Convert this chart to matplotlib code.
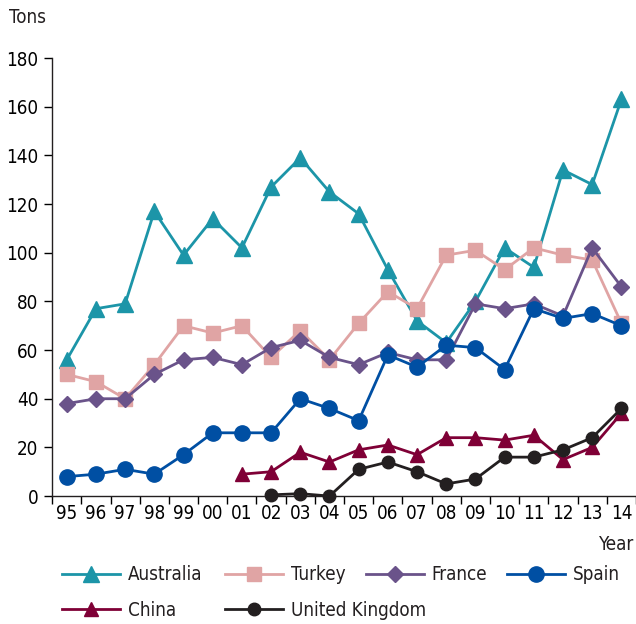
"""Annual production by country, line chart with markers."""

import matplotlib
matplotlib.use("Agg")
import matplotlib.pyplot as plt

years = ["95", "96", "97", "98", "99", "00", "01", "02", "03", "04",
         "05", "06", "07", "08", "09", "10", "11", "12", "13", "14"]

australia = [56, 77, 79, 117, 99, 114, 102, 127, 139, 125,
             116, 93, 72, 63, 80, 102, 94, 134, 128, 163]
turkey = [50, 47, 40, 54, 70, 67, 70, 57, 68, 56,
          71, 84, 77, 99, 101, 93, 102, 99, 97, 71]
france = [38, 40, 40, 50, 56, 57, 54, 61, 64, 57,
          54, 59, 56, 56, 79, 77, 79, 74, 102, 86]
spain = [8, 9, 11, 9, 17, 26, 26, 26, 40, 36,
         31, 58, 53, 62, 61, 52, 77, 73, 75, 70]
china = [None] * 6 + [9, 10, 18, 14, 19, 21, 17, 24, 24, 23, 25, 15, 20, 34]
uk = [None] * 7 + [0.5, 1, 0, 11, 14, 10, 5, 7, 16, 16, 19, 24, 36]

series = [
    ("Australia", australia, "#1c95a8", "^", 11),
    ("Turkey", turkey, "#e0a4a4", "s", 10),
    ("France", france, "#6a538a", "D", 8),
    ("Spain", spain, "#004fa3", "o", 11),
    ("China", china, "#7f0036", "^", 10),
    ("United Kingdom", uk, "#231f20", "o", 9),
]

plt.rcParams["font.family"] = ["DejaVu Sans"]
plt.rcParams["font.stretch"] = "condensed"
plt.rcParams["text.color"] = "#231f20"

fig = plt.figure(figsize=(6.36, 6.24), dpi=100)
ax = fig.add_axes([0.082, 0.205, 0.918, 0.702])

handles = {}
for name, vals, color, marker, ms in series:
    xs = [i for i, v in enumerate(vals) if v is not None]
    ys = [v for v in vals if v is not None]
    ln, = ax.plot(xs, ys, color=color, marker=marker, markersize=ms,
                  linewidth=2, clip_on=False, zorder=3)
    handles[name] = ln

ax.set_xlim(-0.5, len(years) - 0.5)
ax.set_ylim(0, 180)
ax.set_yticks(range(0, 181, 20))
ax.set_xticks(range(len(years)))
ax.set_xticklabels(years)
ax.set_xticks([i + 0.5 for i in range(-1, len(years))], minor=True)
ax.tick_params(axis="x", which="major", length=0, labelsize=13.5, pad=6)
ax.tick_params(axis="x", which="minor", length=6, width=1)
ax.tick_params(axis="y", length=6, width=1, labelsize=13.5, pad=4)

for s in ["top", "right"]:
    ax.spines[s].set_visible(False)
for s in ["left", "bottom"]:
    ax.spines[s].set_linewidth(1)
    ax.spines[s].set_color("#231f20")

fig.text(0.014, 0.972, "Tons", fontsize=13.5, va="center", ha="left")
fig.text(0.997, 0.127, "Year", fontsize=13.5, va="center", ha="right")

# legend entries placed one by one (x, y in figure pixels)
legend_pos = {
    "Australia": (62, 575), "Turkey": (225, 575), "France": (366, 575),
    "Spain": (507, 575), "China": (62, 610), "United Kingdom": (225, 610),
}
for name, (px, py) in legend_pos.items():
    fig.legend([handles[name]], [name], loc="center left",
               bbox_to_anchor=(px / 636, 1 - py / 624), frameon=False,
               fontsize=13.5, handlelength=3.1, handletextpad=0.4,
               borderpad=0, borderaxespad=0)

fig.savefig("out.png", dpi=100)
